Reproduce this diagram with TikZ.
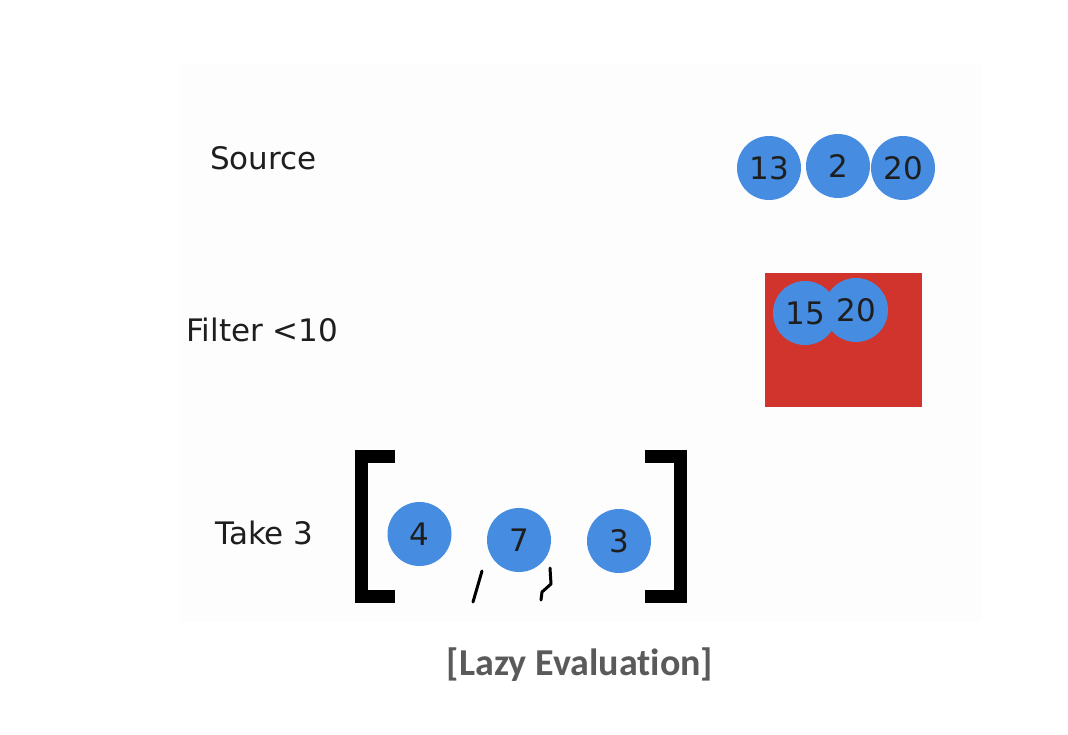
\documentclass[tikz,border=0pt]{standalone}
\usepackage{fontspec}
\setmainfont{DejaVu Sans}
\newfontfamily\capfont[Ligatures=NoCommon]{Carlito}
\definecolor{ballblue}{RGB}{70,140,225}
\definecolor{boxred}{RGB}{208,52,44}
\definecolor{bgpanel}{RGB}{253,253,253}
\definecolor{txtdark}{RGB}{30,30,30}
\definecolor{capgray}{RGB}{90,90,90}
\begin{document}
\begin{tikzpicture}[x=1pt,y=-1pt,
  ball/.style={circle,fill=ballblue,minimum size=64pt,inner sep=0pt,text=txtdark,font=\fontsize{31}{36}\selectfont},
  rowlabel/.style={anchor=west,inner sep=0pt,text=txtdark,font=\fontsize{31}{36}\selectfont},
  brack/.style={line width=13pt,black},
  tick/.style={line width=3pt,black,line cap=round,line join=round}]
\useasboundingbox (0,0) rectangle (1068,734);
\fill[white] (0,0) rectangle (1068,734);
\fill[bgpanel] (180,63) rectangle (981,622);
% labels
\node[rowlabel] (src) at (210,158) {Source};
\node[rowlabel] (flt) at (186,330) {Filter <10};
\node[rowlabel] (tk) at (215,533) {Take 3};
% source balls
\node[ball] (s13) at (769,168) {13};
\node[ball] (s2) at (838,166) {2};
\node[ball] (s20) at (903,168) {20};
% filter box
\fill[boxred] (765,273) rectangle (922,407);
\node[ball] (f15) at (805,313) {15};
\node[ball] (f20) at (856,310) {20};
% take brackets
\draw[brack] (395,456.5) -- (361.5,456.5) -- (361.5,596.5) -- (395,596.5);
\draw[brack] (645,456.5) -- (680.5,456.5) -- (680.5,596.5) -- (645,596.5);
\node[ball] (t4) at (419.5,534) {4};
\node[ball] (t7) at (519,540) {7};
\node[ball] (t3) at (619,541) {3};
\draw[tick] (482,571) -- (473,602);
\draw[tick] (550,568) -- (551,584) -- (542,592) -- (541,600);
% caption
\node[inner sep=0pt,text=capgray,font=\capfont\bfseries\fontsize{38}{44}\selectfont] (cap) at (580,665) {[Lazy Evaluation]};
\end{tikzpicture}
\end{document}
